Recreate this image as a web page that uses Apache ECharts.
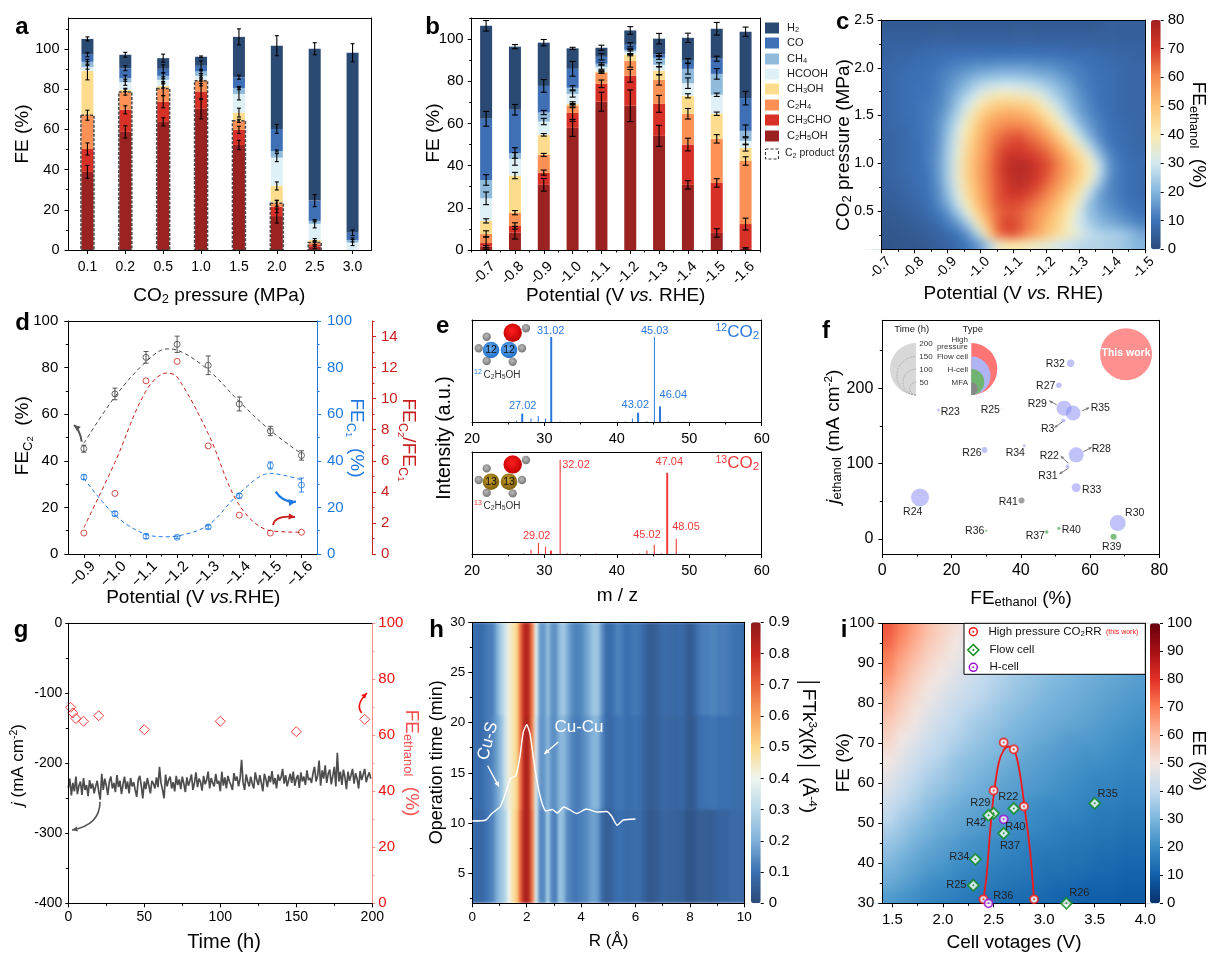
<!DOCTYPE html>
<html><head><meta charset="utf-8">
<style>html,body{margin:0;padding:0;background:#fff}#c{width:1214px;height:969px;isolation:isolate}</style>
<script src="https://cdn.jsdelivr.net/npm/echarts@6/dist/echarts.min.js"></script>
</head><body><div id="c"></div>
<script>
// ---------- panel a: cumulative tops of the stacked bars
const aCats=['0.1','0.2','0.5','1.0','1.5','2.0','2.5','3.0'];
const aC2H5OH=[38.9,58.8,63.8,70.3,52.3,16.9,1.7,0];
const aCH3CHO=[50.3,69.8,73.8,78.9,59.8,21.6,2.8,0];
const aC2H4=[67.1,78.6,80.4,84.2,64.3,23.3,3.7,0];
const aCH3OH=[89.2,79.7,81.7,84.6,68.4,31.9,5,0];
const aHCOOH=[91,83.5,84.7,86.7,77.7,46,13,3.7];
const aCH4=[93.7,85.5,86.7,88.9,80.6,49.3,14.5,5];
const aCO=[97.2,90.5,90.2,91.7,86,60.3,24.6,8.6];
const aH2=[105.1,97.2,95.5,96.2,106.1,101.7,100.2,98.2];
const aErr=[[3.2,3,2.5,4.5,1,1.2,1,1],[3,2,1.5,.8,1.5,1.5,1.2,1.2],[2,3,3.5,1,1.5,1.5,2,2],[5,4,2.5,.5,1,1,2.5,.4],[2.3,1.8,.8,2.2,3,.8,1,4],[3.5,3,1.5,2,2,.5,2.2,5],[1,1,1,.7,2,.5,3,3],[0,0,0,0,1.5,1,1.4,4.5]];
// ---------- panel b
const bCats=['-0.7','-0.8','-0.9','-1.0','-1.1','-1.2','-1.3','-1.4','-1.5','-1.6'];
const bC2H5OH=[1.6,8.2,30.9,57.9,70.3,68.4,54.1,30.9,8.1,.8];
const bCH3CHO=[3.3,11.4,36.7,65,78.8,82.6,69.3,50,31.8,12.3];
const bC2H4=[7.6,17.7,45.1,68.5,84.2,89.7,80.7,64.6,52.7,42.2];
const bCH3OH=[13.8,35.3,54.6,69.3,84.5,92.6,85,73.1,64.6,48.4];
const bHCOOH=[24.5,43.2,60.9,74,86.7,94.1,87.8,79.1,73.6,51.7];
const bCH4=[33.2,46,65.2,76.9,88.3,94.9,91.1,85.9,83.5,56.5];
const bCO=[62.2,66.5,77.8,85.9,91.6,97.3,92.7,89.7,90.7,72];
const bH2=[106.3,96.4,98.3,95.6,95.9,104.1,100.2,100.6,104.9,103.5];
const bErr=[[.5,3,1.5,1,3,2.5,3.5,2.5],[3,1.5,1,1.5,3,2.5,2.5,1],[3,1.2,.7,.6,1.5,1,3,1.5],[4,4,1,1,1.5,1,3.5,.5],[4.5,1.8,.5,.5,1,.5,1.5,1.2],[7.5,3,3,.5,1,.5,1,1.8],[5,4,2.5,2,1,.7,.5,2.5],[2,3,2.5,1,2.5,2.5,1,2.2],[2,2,2,.8,.8,2.5,1.2,3],[.3,2.8,2,1.5,1.5,2.8,3.2,2.2]];
const speciesNames=['C2H5OH','CH3CHO','C2H4','CH3OH','HCOOH','CH4','CO','H2'];
const speciesColors=['#9a2220','#d73027','#fc9055','#fedc8e','#dff0f6','#8fbadb','#3f6fb5','#2b4a73'];
// ---------- panel c: FE ethanol (top row = 2.5 MPa)
const cMatrix=[
[4,4,4,4,4,4,4,4,4,4,4,4,4,4,4,4,4,4,4,4,4,4,5,5,5,5],
[5,5,5,5,5,5,5,5,5,5,5,5,5,5,5,5,5,5,5,5,5,5,5,5,5,5],
[6,6,6,6,7,7,7,7,7,7,7,7,7,7,7,7,7,7,7,7,7,6,6,6,6,6],
[6,7,7,8,8,9,9,10,10,10,10,10,10,10,10,10,10,10,9,9,9,8,8,7,7,6],
[7,7,8,9,9,10,11,12,13,14,14,15,15,15,15,14,14,13,12,11,10,9,8,8,7,7],
[7,8,9,9,10,11,13,15,17,19,20,21,21,21,20,19,18,16,14,12,11,9,9,8,7,7],
[7,8,9,10,10,11,14,17,21,25,28,29,30,29,28,26,23,20,17,13,11,10,9,8,7,7],
[7,8,9,10,10,12,15,20,26,31,36,38,38,37,36,33,28,23,19,15,12,10,9,8,7,7],
[7,8,9,10,11,12,16,23,30,38,44,47,48,47,46,41,34,28,21,16,13,10,9,8,7,7],
[7,8,9,10,11,13,18,26,35,44,50,53,55,54,52,47,41,33,25,18,14,11,9,8,7,7],
[7,8,8,10,11,14,20,29,39,48,55,58,60,60,58,54,47,39,30,22,16,12,10,8,8,7],
[6,7,8,10,11,14,22,32,42,50,57,62,65,66,63,60,54,46,38,28,19,13,10,9,8,7],
[6,7,8,9,11,14,23,33,44,52,59,65,68,70,67,64,60,53,44,36,26,16,11,9,8,7],
[6,7,8,9,11,15,24,34,45,53,60,67,72,72,71,68,64,58,51,43,34,22,13,10,8,8],
[6,7,8,9,11,15,24,35,46,54,61,68,74,76,75,71,67,61,54,47,39,28,15,11,9,8],
[6,7,8,9,10,15,24,35,46,54,61,68,74,76,75,71,66,60,54,47,40,28,15,11,9,8],
[5,6,7,9,10,14,23,34,45,53,61,67,72,75,73,69,63,58,51,44,35,23,13,11,9,8],
[5,5,7,8,10,13,21,32,43,52,60,67,71,72,69,65,60,54,47,39,28,17,13,11,9,8],
[4,5,6,7,9,12,18,28,39,50,59,66,68,68,65,61,56,50,43,35,23,17,14,12,10,9],
[4,4,5,6,8,10,14,22,33,45,56,64,67,66,62,58,53,47,40,31,23,19,16,14,12,10],
[3,4,4,5,6,8,11,15,24,37,51,65,70,67,62,57,51,45,38,31,25,21,19,17,15,13],
[3,3,4,4,5,6,8,10,15,26,44,62,67,65,59,54,48,43,38,33,28,26,25,24,22,18],
[2,3,3,3,4,5,6,8,11,15,24,36,40,40,38,36,34,31,29,27,26,26,25,24,22,20]];
// ---------- panel d
const dX=[9,10,11,12,13,14,15,16];
const dC2=[45.2,68.7,84.4,90,81,64.4,52.8,42.3];
const dC2Err=[1.5,2.5,2.5,3.5,4,3,2,2];
const dC1=[33,17.3,7.6,7.2,11.6,25,38,29.6];
const dC1Err=[1,1,1,.5,.8,1,1.5,3];
const dRatio=[1.35,3.9,11.15,12.4,6.96,2.5,1.35,1.4];
const dFitX=[9,10,11,11.67,12,13,14,15,16];
const dFitC2=[47.5,67.5,82.5,88,87.5,79,65.4,53,43];
const dFitC1=[32.5,16.7,8.4,7.4,7.7,12.4,26,34.6,31.8];
const dFitRatio=[1.7,5.9,10.5,11.65,11.4,7.75,3.15,1.5,1.4];
// ---------- panel e
const e12Thick=[[27.02,10],[31.02,100],[43.02,11],[46.04,18.4]];
const e12Thin=[[25,.5],[26,1.6],[28,4],[29,7],[30,4],[32,1],[41,.6],[42,4],[44,1],[45.03,100],[47,1],[49,.5]];
const e13Thick=[[31,4],[47.04,95.5]];
const e13Thin=[[27,.8],[28,5],[29.02,13],[30,8.6],[32.02,111],[33,1],[34,.5],[37,.5],[42,.5],[43,.6],[44,4],[45.02,11],[46,1],[48.05,18],[49,.7],[50,.4]];
// ---------- panel f  [FE, j, bubble diameter]
const fFlow=[[54.4,233,7.3],[51,204,5.5],[52.5,173.5,15],[55.1,167,15],[52.3,157,4],[16.2,171,3],[34.5,172,1],[41,123.5,3],[29.5,118,6],[56,111.5,15],[53.5,96,4],[56,68,9],[10.9,55,18],[68,21,16]];
const fHcell=[[30,11,2],[47.5,9.3,3.5],[51,14,3],[66.8,3,6]];
const fMfa=[[40.2,51,6]];
const fThis=[[70.4,245,52]];
// ---------- panel g
const gTime=[1.5,3,5,10,20,50,100,150,195];
const gFE=[70,68,66,65,67,62,65,61.3,65.7];
const gJ=[-235,-222,-246,-228,-240,-219,-244,-232,-226,-245,-221,-238,-231,-247,-224,-236,-229,-243,-233,-225,
-240,-252,-215,-238,-222,-232,-245,-226,-219,-236,-228,-241,-217,-234,-225,-244,-230,-219,-237,-226,
-243,-221,-233,-227,-238,-248,-224,-218,-232,-250,-226,-237,-221,-232,-243,-225,-229,-236,-220,-234,
-205,-228,-238,-250,-216,-233,-224,-219,-236,-227,-240,-218,-231,-223,-237,-219,-229,-241,-220,-232,
-225,-216,-238,-228,-213,-234,-222,-227,-239,-218,-230,-224,-212,-236,-221,-228,-233,-215,-229,-225,
-240,-212,-232,-220,-236,-218,-226,-231,-238,-214,-225,-219,-233,-222,-195,-228,-238,-216,-226,-233,
-219,-229,-236,-213,-224,-231,-217,-228,-240,-215,-223,-234,-218,-227,-211,-230,-221,-236,-216,-225,
-220,-208,-229,-217,-233,-224,-215,-228,-212,-232,-222,-217,-235,-213,-226,-219,-231,-210,-224,-221,
-228,-214,-205,-226,-218,-196,-232,-210,-222,-203,-228,-215,-209,-230,-218,-205,-233,-185,-226,-212,
-231,-209,-220,-237,-212,-225,-217,-208,-229,-214,-222,-236,-211,-224,-216,-208,-227,-219,-213,-222];
// ---------- panel h (rows: 20-30, 11-20, 2-11 min; 70 columns across R 0-10)
const hMatrix=[
[.10,.09,.09,.11,.12,.13,.2,.27,.34,.42,.46,.5,.68,.83,.83,.65,.38,.17,.16,.24,.16,.15,.23,.26,.2,.15,.13,.13,.15,.18,.22,.26,.24,.15,.09,.09,.11,.13,.12,.1,.1,.11,.11,.1,.08,.05,.05,.06,.08,.09,.08,.08,.08,.09,.08,.05,.05,.08,.11,.12,.12,.13,.13,.12,.12,.12,.11,.1,.1,.09],
[.10,.09,.09,.11,.12,.14,.18,.24,.33,.42,.46,.5,.68,.84,.84,.64,.36,.16,.16,.22,.15,.15,.21,.22,.18,.14,.12,.12,.14,.16,.19,.22,.2,.13,.09,.08,.1,.11,.11,.1,.09,.1,.1,.09,.07,.05,.05,.06,.07,.08,.07,.07,.07,.08,.07,.05,.04,.06,.09,.1,.1,.11,.11,.1,.1,.1,.1,.09,.09,.09],
[.09,.08,.08,.1,.12,.14,.2,.25,.29,.4,.47,.52,.7,.85,.84,.66,.36,.14,.14,.28,.14,.12,.25,.22,.14,.12,.11,.12,.13,.14,.17,.18,.15,.08,.05,.06,.08,.1,.1,.09,.08,.09,.09,.08,.06,.04,.04,.05,.06,.07,.06,.06,.06,.06,.05,.03,.03,.04,.05,.05,.05,.05,.06,.07,.07,.07,.08,.08,.08,.08]];
const hLine=[[0,10.2],[.5,10.3],[.7,10.9],[1.02,11.6],[1.2,12.8],[1.41,14.45],[1.6,14.7],[1.75,16.6],[1.87,19],[2,19.8],[2.12,18.9],[2.24,16.6],[2.39,14],[2.55,12.1],[2.71,11.2],[2.94,11.35],[3.12,11],[3.37,11.6],[3.59,11.3],[3.84,10.95],[4.2,11.4],[4.57,11.1],[4.94,11.15],[5.12,10.7],[5.33,9.77],[5.55,10.3],[6,10.4]];
// ---------- panel i (top row = FE 100 side)
const iMatrix=[
[75,69,64,59,55,52,49,46,44,42,40,38,36,35,34,32,31,30,29,28],
[73,67,62,57,54,50,47,45,42,40,38,37,35,34,32,31,30,29,28,27],
[70,64,60,55,52,49,46,43,41,39,37,35,34,33,31,30,29,28,27,26],
[68,62,57,53,50,47,44,42,39,38,36,34,33,31,30,29,28,27,26,25],
[65,60,55,51,48,45,42,40,38,36,34,33,31,30,29,28,27,26,25,24],
[62,57,53,49,46,43,41,39,37,35,33,32,30,29,28,27,26,25,24,23],
[60,55,51,47,44,41,39,37,35,33,32,30,29,28,27,26,25,24,23,22],
[57,53,49,45,42,40,37,35,34,32,30,29,28,27,26,25,24,23,22,21],
[55,50,47,43,40,38,36,34,32,30,29,28,27,25,24,24,23,22,21,20],
[52,48,44,41,39,36,34,32,31,29,28,26,25,24,23,22,22,21,20,19],
[50,46,42,39,37,34,32,31,29,28,26,25,24,23,22,21,21,20,19,19],
[47,43,40,37,35,33,31,29,28,26,25,24,23,22,21,20,19,19,18,18],
[45,41,38,35,33,31,29,28,26,25,24,23,22,21,20,19,18,18,17,17],
[42,39,36,33,31,29,27,26,25,23,22,21,20,20,19,18,17,17,16,16],
[40,36,34,31,29,27,26,24,23,22,21,20,19,18,18,17,16,16,15,15],
[37,34,31,29,27,26,24,23,22,21,20,19,18,17,16,16,15,15,14,14],
[34,32,29,27,25,24,22,21,20,19,18,17,17,16,15,15,14,14,13,13],
[32,29,27,25,24,22,21,20,19,18,17,16,15,15,14,14,13,13,12,12],
[29,27,25,23,22,20,19,18,17,16,16,15,14,14,13,13,12,12,11,11],
[27,25,23,21,20,19,17,17,16,15,14,14,13,12,12,11,11,11,10,10],
[24,22,21,19,18,17,16,15,14,13,13,12,12,11,11,10,10,10,9,9]];
const iHigh=[[2.4,31],[2.5,58.2],[2.6,70.2],[2.7,68.5],[2.8,54.2],[2.9,31]];
const iFit=[[2.4,31],[2.43,36.7],[2.47,49.2],[2.5,56.7],[2.55,65],[2.6,68.3],[2.65,69.2],[2.71,67.9],[2.76,62.5],[2.81,53.3],[2.86,43.3],[2.9,31]];
const iFlow=[[3.5,55],[2.7,53.7],[2.5,52.5],[2.45,52],[2.6,47.5],[2.32,41],[2.3,34.5],[3.22,30]];
const iHcell=[[2.6,51],[2.45,30]];

const F='"Liberation Sans",Arial,sans-serif';
const grid=[],xAxis=[],yAxis=[],series=[],visualMap=[],els=[];
const range=(a,b,s)=>{const r=[];for(let v=a;v<=b+1e-9;v+=s)r.push(+v.toFixed(4));return r;};

function addGrid(x0,y0,x1,y1){grid.push({left:x0,top:y0,width:x1-x0,height:y1-y0,show:false});return grid.length-1;}
function valAxis(store,g,pos,min,max,o){
  o=o||{};const color=o.color||'#000';
  const lab={show:!!o.labels,customValues:o.labels,color,fontSize:o.size||14,fontFamily:F,margin:o.margin||6,rotate:o.rotate||0,formatter:o.fmt};
  if(o.rotate){lab.align='center';lab.verticalAlign='middle';lab.padding=[0,o.shift||0,0,0];}
  store.push({type:'value',gridIndex:g,position:pos,min,max,offset:o.offset||0,inverse:!!o.inverse,z:10,silent:true,
    axisLine:{show:o.line!==false,onZero:false,lineStyle:{color:o.lineColor||color,width:1}},
    axisTick:{show:!!o.ticks,length:o.tickLen||4,customValues:o.ticks,lineStyle:{color:o.lineColor||color,width:1}},
    axisLabel:lab,splitLine:{show:false},minorTick:{show:false}});
  return store.length-1;
}
function panel(g,X,Y){
  const xi=X.category?catAxis(g,X):valAxis(xAxis,g,'bottom',X.min,X.max,Object.assign({},X,{labels:X.labels||X.ticks}));
  const yi=valAxis(yAxis,g,'left',Y.min,Y.max,Object.assign({},Y,{labels:Y.labels||Y.ticks}));
  if(X.minor)valAxis(xAxis,g,'bottom',X.mMin!==undefined?X.mMin:X.min,X.mMax!==undefined?X.mMax:X.max,{inverse:X.inverse,line:false,ticks:X.minor,tickLen:2.5});
  if(Y.minor)valAxis(yAxis,g,'left',Y.min,Y.max,{line:false,ticks:Y.minor,tickLen:2.5,color:Y.color});
  const fx=X.mMin!==undefined?[X.mMin,X.mMax]:[X.min,X.max];
  valAxis(xAxis,g,'top',fx[0],fx[1],{inverse:X.inverse});
  if(!Y.noRight)valAxis(yAxis,g,'right',Y.min,Y.max,{});
  return {g,xi,yi};
}
function catAxis(g,X){
  const lab={color:'#000',fontSize:X.size||14,fontFamily:F,margin:X.margin||6,rotate:X.rotate||0,interval:0};
  if(X.rotate){lab.align='center';lab.verticalAlign='middle';lab.padding=[0,X.shift||0,0,0];}
  xAxis.push({type:'category',gridIndex:g,position:'bottom',data:X.category,z:10,silent:true,
    axisLine:{show:true,onZero:false,lineStyle:{color:'#000'}},axisTick:{show:true,alignWithLabel:true,length:4,lineStyle:{color:'#000'}},
    axisLabel:lab,splitLine:{show:false}});
  return xAxis.length-1;
}
// heat cells are drawn one edge cell wider on each padded side; white strips hide what lies outside the frame
function heat(rect,matrix,min,max,colors,cb,cbTicks,zl,padY,cbMargin){
  const nc=matrix[0].length,nr=matrix.length,cw=(rect[2]-rect[0])/nc,ch=(rect[3]-rect[1])/nr;
  const wide=matrix.map(r=>[r[0]].concat(r,[r[nc-1]]));
  const m=padY?[wide[0]].concat(wide,[wide[nr-1]]):wide;
  const g=addGrid(rect[0]-cw,rect[1]-(padY?ch:0),rect[2]+cw,rect[3]+(padY?ch:0));
  xAxis.push({type:'category',gridIndex:g,show:false,data:m[0].map((_,i)=>''+i)});
  yAxis.push({type:'category',gridIndex:g,show:false,inverse:true,data:m.map((_,i)=>''+i)});
  const data=[];m.forEach((row,j)=>row.forEach((v,i)=>data.push([i,j,v])));
  series.push({type:'heatmap',zlevel:zl,xAxisIndex:xAxis.length-1,yAxisIndex:yAxis.length-1,data,silent:true,z:1,progressive:0,itemStyle:{borderWidth:0},emphasis:{disabled:true}});
  visualMap.push({type:'continuous',min,max,dimension:2,seriesIndex:series.length-1,left:cb[0],top:cb[1],itemWidth:cb[2]-cb[0],itemHeight:cb[3]-cb[1],padding:0,calculable:false,hoverLink:false,inRange:{color:colors},textStyle:{color:'#000'}});
  const s=30;
  [[rect[0]-s,rect[1]-s,rect[2]-rect[0]+2*s,s],[rect[0]-s,rect[3],rect[2]-rect[0]+2*s,s],[rect[0]-s,rect[1],s,rect[3]-rect[1]],[rect[2],rect[1],s,rect[3]-rect[1]]].forEach(a=>
    els.push({type:'rect',z:0,silent:true,shape:{x:a[0],y:a[1],width:a[2],height:a[3]},style:{fill:'#fff'}}));
  const cg=addGrid(cb[0],cb[1],cb[2],cb[3]);
  valAxis(xAxis,cg,'bottom',0,1,{line:false});
  valAxis(yAxis,cg,'right',min,max,{line:false,ticks:cbTicks,labels:cbTicks,size:15,margin:cbMargin||7,tickLen:3});
}
function errorItem(cap,lw,color){
  return function(p,api){
    const x=api.value(0),y=api.value(1),e=api.value(2);
    const a=api.coord([x,y-e]),b=api.coord([x,y+e]);
    const st={stroke:color,lineWidth:lw};
    return {type:'group',children:[
      {type:'line',shape:{x1:a[0],y1:a[1],x2:b[0],y2:b[1]},style:st},
      {type:'line',shape:{x1:a[0]-cap,y1:a[1],x2:a[0]+cap,y2:a[1]},style:st},
      {type:'line',shape:{x1:b[0]-cap,y1:b[1],x2:b[0]+cap,y2:b[1]},style:st}]};
  };
}
function stacked(P,name,tops,errs,barW,cap){
  tops.forEach((t,s)=>{
    series.push({type:'bar',name:speciesNames[s],xAxisIndex:P.xi,yAxisIndex:P.yi,stack:name,barWidth:barW,silent:true,
      itemStyle:{color:speciesColors[s]},data:t.map((v,i)=>+(v-(s?tops[s-1][i]:0)).toFixed(2))});
  });
  const d=[];tops.forEach((t,s)=>t.forEach((v,i)=>{if(errs[i][s]>0)d.push([i,v,errs[i][s]]);}));
  series.push({type:'custom',xAxisIndex:P.xi,yAxisIndex:P.yi,z:6,silent:true,data:d,encode:{x:0,y:1},renderItem:errorItem(cap,1.1,'#000')});
}
function rich(S,c,b){
  const w=b?'bold':'normal';
  return {n:{fontSize:S,fill:c,fontFamily:F,fontWeight:w},
   i:{fontSize:S,fill:c,fontFamily:F,fontStyle:'italic',fontWeight:w},
   s:{fontSize:S*.68,fill:c,fontFamily:F,verticalAlign:'bottom',padding:[S*.42,0,0,0]},
   t:{fontSize:S*.5,fill:c,fontFamily:F,verticalAlign:'bottom',padding:[S*.8,0,0,0]},
   u:{fontSize:S*.62,fill:c,fontFamily:F,verticalAlign:'top',padding:[0,0,S*.45,0]}};
}
function T(x,y,str,o){
  o=o||{};const S=o.size||19,c=o.color||'#000',al=o.align||'center';
  const style={text:str,x:0,y:0,align:al,textAlign:al,verticalAlign:'middle',textVerticalAlign:'middle',fill:c,fontSize:S,fontFamily:F,fontWeight:o.bold?'bold':'normal',fontStyle:o.italic?'italic':'normal'};
  if(str.indexOf('{')>=0)style.rich=rich(S,c,o.bold);
  els.push({type:'text',x,y,rotation:(o.rot||0)*Math.PI/180,z:100,silent:true,style});
}
function arrow(x1,y1,cx,cy,x2,y2,color,lw,head){
  head=head||6;
  els.push({type:'bezierCurve',z:100,silent:true,shape:{x1,y1,cpx1:cx,cpy1:cy,x2,y2},style:{stroke:color,lineWidth:lw,fill:'none'}});
  const ang=Math.atan2(y2-cy,x2-cx),h=head,t=ang+Math.PI;
  els.push({type:'polygon',z:100,silent:true,shape:{points:[[x2,y2],[x2+h*Math.cos(t+.45),y2+h*Math.sin(t+.45)],[x2+h*Math.cos(t-.45),y2+h*Math.sin(t-.45)]]},style:{fill:color}});
}
function ball(x,y,r,c1,c2){els.push({type:'circle',z:100,silent:true,shape:{cx:x,cy:y,r},style:{fill:{type:'radial',x:.45,y:.4,r:.6,colorStops:[{offset:0,color:c1},{offset:1,color:c2}]}}});}
function molecule(dy,c1,c2,num){
  [[478.7,348.3],[486.7,336.7],[486.7,361],[512.7,361.7],[522,348.3],[526,328.3]].forEach(p=>ball(p[0],p[1]+dy,4.2,'#bbb','#777'));
  ball(491,350+dy,8.3,c1,c2);ball(509,350+dy,8.3,c1,c2);ball(512.7,332.7+dy,9.2,'#ff2020','#c00000');
  T(491,350.5+dy,num,{size:10.5,color:'#111'});T(509,350.5+dy,num,{size:10.5,color:'#111'});
}

// ===== a
{
 const P=panel(addGrid(68.5,18,371.5,250),{category:aCats,size:14,margin:10},{min:0,max:115.5,ticks:range(0,100,20),minor:range(10,110,20),size:14.5,margin:9});
 stacked(P,'a',[aC2H5OH,aCH3CHO,aC2H4,aCH3OH,aHCOOH,aCH4,aCO,aH2],aErr,12,2);
 series.push({type:'custom',xAxisIndex:P.xi,yAxisIndex:P.yi,z:5,silent:true,data:aC2H4.slice(0,7).map((v,i)=>[i,v]),encode:{x:0,y:1},renderItem(p,api){
   const a=api.coord([api.value(0),api.value(1)]),b=api.coord([api.value(0),0]);
   return {type:'rect',shape:{x:a[0]-6.5,y:a[1],width:13,height:b[1]-a[1]},style:{fill:'none',stroke:'#444',lineWidth:1.5,lineDash:[3,1.5]}};}});
 T(22,27,'a',{size:24,bold:true});
 T(22.7,134,'FE (%)',{rot:90});
 T(219.3,295.7,'{n|CO}{s|2}{n| pressure (MPa)}');
}
// ===== b
{
 const P=panel(addGrid(471.7,18,760,250),{category:bCats,size:14.5,margin:21,rotate:45,shift:6,minor:range(0,10,1),mMin:0,mMax:10},{min:0,max:110,ticks:range(0,100,20),minor:range(10,110,20),size:15,margin:8});
 stacked(P,'b',[bC2H5OH,bCH3CHO,bC2H4,bCH3OH,bHCOOH,bCH4,bCO,bH2],bErr,12,3);
 T(432.7,27,'b',{size:24,bold:true});
 T(433.3,133,'FE (%)',{rot:90});
 T(615.7,295.7,'{n|Potential (V }{i|vs.}{n| RHE)}');
 const lg=[['{n|H}{s|2}',7],['{n|CO}',6],['{n|CH}{s|4}',5],['{n|HCOOH}',4],['{n|CH}{s|3}{n|OH}',3],['{n|C}{s|2}{n|H}{s|4}',2],['{n|CH}{s|3}{n|CHO}',1],['{n|C}{s|2}{n|H}{s|5}{n|OH}',0]];
 const ly=[28,43,59,74,89,105,120,136];
 lg.forEach((l,k)=>{
   els.push({type:'rect',z:100,silent:true,shape:{x:765,y:ly[k]-5.5,width:14,height:11},style:{fill:speciesColors[l[1]]}});
   T(787,ly[k],l[0],{size:11,align:'left',color:'#222'});
 });
 els.push({type:'rect',z:100,silent:true,shape:{x:765.5,y:149,width:13,height:10},style:{fill:'none',stroke:'#333',lineWidth:1,lineDash:[3,2]}});
 T(785,153.5,'{n|C}{s|2}{n| product}',{size:10.5,align:'left',color:'#222'});
}
// ===== c
{
 const cols=['#2b4b7b','#3d72b8','#84b6dd','#d3e8f0','#fbeab0','#fdc274','#f58b4f','#d73a2a','#a01f1f'];
 heat([881.7,20,1145,249.3],cMatrix,0,80,cols,[1151,20,1160.7,249.3],range(0,80,10),-2,true,7);
 panel(addGrid(881.7,20,1145,249.3),{min:-1.5,max:-.7,inverse:true,ticks:range(-1.5,-.7,.1),minor:range(-1.45,-.75,.1),rotate:45,shift:4,size:14,margin:17,fmt:v=>v.toFixed(1)},
   {min:.1,max:2.5,ticks:[.5,1,1.5,2,2.5],minor:[.25,.75,1.25,1.75,2.25],size:14,margin:8,fmt:v=>v.toFixed(1)});
 T(842.7,22,'c',{size:24,bold:true});
 T(843.3,145,'{n|CO}{s|2}{n| pressure (MPa)}',{rot:90});
 T(1013.3,293.3,'{n|Potential (V }{i|vs.}{n| RHE)}');
 T(1198,135,'{n|FE}{s|ethanol}{n|  (%)}',{rot:-90});
}
// ===== d
{
 const blue='#1f78e0',red='#c81e1e';
 const g=addGrid(68.3,321,317,554);
 const P=panel(g,{min:8.5,max:16.5,ticks:dX,minor:range(9.5,15.5,1),rotate:45,shift:4,size:15,margin:19,fmt:v=>'\u2212'+(v/10).toFixed(1)},
   {min:0,max:100,ticks:range(0,100,20),minor:range(10,90,20),size:15,margin:10,noRight:true});
 const yb=valAxis(yAxis,g,'right',0,100,{color:blue,ticks:range(0,100,20),labels:range(0,100,20),size:15,margin:10});
 valAxis(yAxis,g,'right',0,100,{color:blue,line:false,ticks:range(10,90,20),tickLen:2.5});
 const yr=valAxis(yAxis,g,'right',0,15,{color:red,offset:55,ticks:range(0,14,2),labels:range(0,14,2),size:15,margin:9});
 valAxis(yAxis,g,'right',0,15,{color:red,offset:55,line:false,ticks:range(1,15,2),tickLen:2.5});
 const fit=(ys,yi,c)=>series.push({type:'line',xAxisIndex:P.xi,yAxisIndex:yi,smooth:.35,showSymbol:false,silent:true,z:3,lineStyle:{color:c,width:1,type:[4,3]},data:dFitX.map((x,i)=>[x,ys[i]])});
 fit(dFitC2,P.yi,'#444');fit(dFitC1,yb,blue);fit(dFitRatio,yr,red);
 const pts=(ys,yi,c)=>series.push({type:'scatter',xAxisIndex:P.xi,yAxisIndex:yi,symbol:'circle',symbolSize:6,silent:true,z:7,itemStyle:{color:'rgba(255,255,255,0)',borderColor:c,borderWidth:1},data:dX.map((x,i)=>[x,ys[i]])});
 pts(dC2,P.yi,'#444');pts(dC1,yb,blue);pts(dRatio,yr,red);
 series.push({type:'custom',xAxisIndex:P.xi,yAxisIndex:P.yi,z:6,silent:true,data:dX.map((x,i)=>[x,dC2[i],dC2Err[i]]),encode:{x:0,y:1},renderItem:errorItem(2.5,.9,'#444')});
 series.push({type:'custom',xAxisIndex:P.xi,yAxisIndex:yb,z:6,silent:true,data:dX.map((x,i)=>[x,dC1[i],dC1Err[i]]),encode:{x:0,y:1},renderItem:errorItem(2.5,.9,blue)});
 T(22.7,323,'d',{size:24,bold:true});
 T(22.7,435.7,'{n|FE}{s|C}{t|2}{n|  (%)}',{rot:90});
 T(193.3,597.7,'{n|Potential (V }{i|vs.}{n|RHE)}');
 T(356.7,438,'{n|FE}{s|C}{t|1}{n|  (%)}',{rot:-90,color:blue});
 T(408.3,440,'{n|FE}{s|C}{t|2}{n|/FE}{s|C}{t|1}',{rot:-90,color:red});
 arrow(81.7,441.7,80,430,74,425,'#555',2,7);
 arrow(275.7,491.7,283,503,296,501.7,blue,2.2,8);
 arrow(273,525,275,515,295,517,red,1.8,7);
}
// ===== e
{
 const blue='#2a78dc',red='#f03c3c';
 const xo={min:20,max:60,ticks:range(20,60,10),minor:range(25,55,10),size:14.5,margin:9};
 const P1=panel(addGrid(472,320,761.7,422),xo,{min:0,max:120});
 const P2=panel(addGrid(472,452,761.7,554),xo,{min:0,max:120});
 const stem=(P,d,w,c)=>series.push({type:'bar',xAxisIndex:P.xi,yAxisIndex:P.yi,barWidth:w,silent:true,itemStyle:{color:c},data:d});
 stem(P1,e12Thick,2,blue);stem(P1,e12Thin,1,blue);stem(P2,e13Thick,2,red);stem(P2,e13Thin,1.1,red);
 molecule(0,'#6aaef0','#1f6fc8','12');molecule(131.7,'#c8a030','#7f5f08','13');
 T(442.7,326,'e',{size:24,bold:true});
 T(445,438,'Intensity (a.u.)',{rot:90,size:19.5});
 T(617.3,595.7,'m / z',{size:19});
 [['31.02',550.7,330.7],['45.03',654.7,330.7],['27.02',522.7,406],['43.02',635.3,404.7],['46.04',673.3,395]].forEach(a=>T(a[1],a[2],a[0],{size:11,color:blue}));
 [['32.02',576,465.3],['47.04',669.3,462.3],['29.02',536.7,536],['45.02',647,535],['48.05',686,527.3]].forEach(a=>T(a[1],a[2],a[0],{size:11,color:red}));
 T(737.3,332.3,'{u|12}{n|CO}{s|2}',{size:17,color:blue});
 T(737.3,463.7,'{u|13}{n|CO}{s|2}',{size:17,color:red});
 T(478,372.5,'12',{size:7,color:blue});
 T(502,375,'{n|C}{s|2}{n|H}{s|5}{n|OH}',{size:10,color:'#333'});
 T(478,503.5,'13',{size:7,color:red});
 T(502,506,'{n|C}{s|2}{n|H}{s|5}{n|OH}',{size:10,color:'#333'});
}
// ===== f
{
 const P=panel(addGrid(882.3,320.3,1159.3,554),{min:0,max:80,ticks:range(0,80,20),minor:range(10,70,20),size:16,margin:9},
   {min:-20,max:290,ticks:[0,100,200],minor:[50,150,250],size:16,margin:9});
 const bub=(d,c)=>series.push({type:'scatter',xAxisIndex:P.xi,yAxisIndex:P.yi,silent:true,z:5,symbolSize:v=>v[2],itemStyle:{color:c},data:d});
 bub(fFlow,'rgba(130,132,240,.62)');bub(fHcell,'#5fae5f');bub(fMfa,'#8a8a8a');bub(fThis,'#ff7474');
 T(826,331,'f',{size:24,bold:true});
 T(833.3,436.7,'{i|j}{s|ethanol}{n| (mA cm}{u|-2}{n|)}',{rot:90});
 T(1021,598.3,'{n|FE}{s|ethanol}{n| (%)}');
 T(1126,353,'This work',{size:10.5,bold:true,color:'#fff'});
 [['R32',1055.3,363.7],['R27',1045.7,386.3],['R29',1037.3,404],['R35',1100.3,407.7],['R3',1047.7,429],['R23',950.3,412],['R25',990.3,410.3],['R34',1015.3,452.7],['R26',972,452.7],['R28',1101.3,449],['R22',1049.3,456],['R31',1048,476],['R33',1091.7,489.7],['R41',1008.3,502],['R24',912.7,512],['R30',1134.7,512.7],['R36',974.7,530.7],['R40',1071.3,530],['R37',1035.3,536.3],['R39',1111.7,547]].forEach(a=>T(a[1],a[2],a[0],{size:10.5,color:'#222'}));
 [[1056.7,405,1049.3,400.7],[1081.7,411,1089.3,407.7],[1062.7,421.7,1054.3,427.7],[1083.3,451.7,1091.7,447.3],[1068.3,463.3,1060.7,456],[1068.3,468.3,1059.3,474]].forEach(a=>arrow(a[0],a[1],(a[0]+a[2])/2,(a[1]+a[3])/2,a[2],a[3],'#777',1,3.5));
 const sec=(cx,cy,r,a,b,c)=>els.push({type:'sector',z:99,silent:true,shape:{cx,cy,r,r0:0,startAngle:a,endAngle:b,clockwise:true},style:{fill:c}});
 sec(916,369,26,Math.PI/2,Math.PI*1.5,'#d8d8d8');
 [[19.2,375.8],[13,382],[6.4,388.6]].forEach(a=>els.push({type:'arc',z:100,silent:true,shape:{cx:916,cy:a[1],r:a[0],startAngle:Math.PI/2,endAngle:Math.PI*1.5,clockwise:true},style:{stroke:'#999',lineWidth:.6,lineDash:[2,1],fill:'none'}}));
 sec(971.3,369,26,-Math.PI/2,Math.PI/2,'#ff7474');sec(971.3,375.8,19.2,-Math.PI/2,Math.PI/2,'#b0b4f5');sec(971.3,382,13,-Math.PI/2,Math.PI/2,'#6fb56f');sec(971.3,388.6,6.4,-Math.PI/2,Math.PI/2,'#888');
 T(911.7,329.3,'Time (h)',{size:9.5,color:'#222'});T(972.7,329.3,'Type',{size:9.5,color:'#222'});
 [['200',926,343.3],['150',926,356.7],['100',926,369.3],['50',924,382.3]].forEach(a=>T(a[1],a[2],a[0],{size:8,color:'#333'}));
 [['High',339.5],['pressure',346.3],['Flow cell',356.3],['H-cell',369.3],['MFA',382.3]].forEach(a=>T(968,a[1],a[0],{size:8,color:'#333',align:'right'}));
}
// ===== g
{
 const g=addGrid(68.3,623.3,372.3,903.3);
 const P=panel(g,{min:0,max:200,ticks:range(0,200,50),minor:range(25,175,50),size:14,margin:7,lineColor:'#000'},
   {min:-400,max:0,ticks:range(-400,0,100),minor:range(-350,-50,100),size:14,margin:6,tickLen:3,noRight:true});
 const yr=valAxis(yAxis,g,'right',0,100,{color:'#f01010',lineColor:'#ff8c8c',ticks:range(0,100,20),labels:range(0,100,20),size:15,margin:6,tickLen:3});
 valAxis(yAxis,g,'right',0,100,{lineColor:'#ff8c8c',line:false,ticks:range(10,90,20),tickLen:2});
 series.push({type:'line',xAxisIndex:P.xi,yAxisIndex:P.yi,showSymbol:false,silent:true,z:4,lineStyle:{color:'#4d4d4d',width:1.7},data:gJ.map((v,i)=>[i,v])});
 series.push({type:'scatter',xAxisIndex:P.xi,yAxisIndex:yr,symbol:'diamond',symbolSize:10,silent:true,z:5,itemStyle:{color:'rgba(255,255,255,0)',borderColor:'#f01010',borderWidth:1},data:gTime.map((t,i)=>[t,gFE[i]])});
 T(21,630,'g',{size:24,bold:true});
 T(18.3,765,'{i|j}{n| (mA cm}{u|-2}{n|)}',{rot:90,size:17});
 T(224,942.7,'Time (h)',{size:20});
 T(411.7,763,'{n|FE}{s|ethanol}{n|  (%)}',{rot:-90,color:'#f55050'});
 arrow(100,801.7,100,825,72,830,'#555',1.6,6);
 arrow(361.7,713,355,705,367,693,'#f01010',1.6,6);
}
// ===== h
{
 const cols=['#2b4a78','#3b6fb0','#7fb0d8','#b9d9ea','#eef5ee','#fcd98a','#f7a05c','#e8603a','#c9281f','#8b1a1a'];
 heat([472.3,622.3,744.3,903.3],hMatrix,0,.9,cols,[751,622.3,760.7,903.3],range(0,.9,.1),-1,false,8);
 const P=panel(addGrid(472.3,622.3,744.3,903.3),{min:0,max:10,ticks:range(0,10,2),minor:range(1,9,2),size:13.5,margin:7},
   {min:2,max:30,ticks:range(5,30,5),minor:range(2.5,27.5,5),size:13.5,margin:7});
 series.push({type:'line',xAxisIndex:P.xi,yAxisIndex:P.yi,showSymbol:false,silent:true,smooth:.2,z:20,lineStyle:{color:'#fff',width:1.4},data:hLine});
 T(436.7,630.7,'h',{size:24,bold:true});
 T(436.7,762.3,'Operation time (min)',{rot:90,size:18});
 T(608.7,941.7,'R (Å)',{size:17});
 T(808.3,745,'{n|\u2502FTk}{u|3}{n|\u03c7(k)\u2502 (Å}{u|-4}{n|)}',{rot:-90,size:19});
 T(488,741,'Cu-S',{rot:75,size:17,color:'#fff'});
 T(579,727,'Cu-Cu',{size:17,color:'#fff'});
 arrow(487.7,765.7,493,776,499,786.7,'#fff',1.4,5.5);
 arrow(558.3,742,551,748,544.3,754,'#fff',1.4,5.5);
}
// ===== i
{
 const cols=['#08306b','#1060aa','#3a8bc4','#7cb6dc','#c2daee','#f2e6e2','#fcbba1','#fb7c55','#e32f27','#a50f15','#67000d'];
 heat([882.3,623.3,1145.3,903.3],iMatrix,0,100,cols,[1150,623.3,1160,903.3],range(0,100,10),-2,true,7);
 const P=panel(addGrid(882.3,623.3,1145.3,903.3),{min:1.4,max:4,ticks:range(1.5,4,.5),minor:range(1.75,3.75,.5),size:15,margin:9,fmt:v=>v.toFixed(1)},
   {min:30,max:100,ticks:range(30,100,10),minor:range(35,95,10),size:15,margin:8});
 series.push({type:'line',xAxisIndex:P.xi,yAxisIndex:P.yi,showSymbol:false,silent:true,smooth:.35,z:12,lineStyle:{color:'#f01818',width:1.8},data:iFit});
 const sc=(d,sym,size,c)=>{
   series.push({type:'scatter',xAxisIndex:P.xi,yAxisIndex:P.yi,symbol:sym,symbolSize:size,silent:true,z:14,clip:true,itemStyle:{color:'#fff',borderColor:c,borderWidth:1.8},data:d});
   series.push({type:'scatter',xAxisIndex:P.xi,yAxisIndex:P.yi,symbol:'circle',symbolSize:2,silent:true,z:15,clip:true,itemStyle:{color:c},data:d});
 };
 sc(iHigh,'circle',8,'#f01818');sc(iFlow,'diamond',11,'#0a8a1a');sc(iHcell,'circle',8,'#9a10d0');
 T(844,630,'i',{size:24,bold:true});
 T(843.3,762.7,'FE (%)',{rot:90});
 T(1014,942.7,'Cell votages (V)',{size:19});
 T(1198.3,760.7,'EE (%)',{rot:-90});
 [['R35',1107.7,794],['R22',1008.3,797.3],['R29',980.3,803.3],['R42',976,823.3],['R40',1015.3,826.7],['R37',1010,846],['R34',959.3,856.7],['R25',956.3,885.3],['R36',1003.3,896],['R26',1079.3,893.3]].forEach(a=>T(a[1],a[2],a[0],{size:11,color:'#222'}));
 els.push({type:'rect',z:98,silent:true,shape:{x:964,y:623.3,width:181.3,height:51},style:{fill:'#fff',stroke:'#000',lineWidth:1}});
 const key=(y,c,dia)=>{
   els.push(dia?{type:'polygon',z:100,silent:true,shape:{points:[[973.3,y-5.5],[978.8,y],[973.3,y+5.5],[967.8,y]]},style:{fill:'#fff',stroke:c,lineWidth:1.5}}:{type:'circle',z:100,silent:true,shape:{cx:973.3,cy:y,r:4},style:{fill:'#fff',stroke:c,lineWidth:1.5}});
   els.push({type:'circle',z:101,silent:true,shape:{cx:973.3,cy:y,r:1},style:{fill:c}});
 };
 key(631.7,'#f01818');key(650,'#0a8a1a',true);key(667.3,'#9a10d0');
 T(988.5,631.7,'{n|High pressure CO}{s|2}{n|RR}',{size:11.5,align:'left',color:'#111'});
 T(1106,632.5,'(this work)',{size:7,align:'left',color:'#f01818'});
 T(989.5,650,'Flow cell',{size:11.5,align:'left',color:'#111'});
 T(989.5,667.3,'H-cell',{size:11.5,align:'left',color:'#111'});
}

const chart=echarts.init(document.getElementById('c'),null,{width:1214,height:969});
chart.setOption({animation:false,backgroundColor:'#fff',textStyle:{fontFamily:F},grid,xAxis,yAxis,series,visualMap,graphic:{elements:els}});
// the reference's colour maps are continuous: soften the heat layers (colour only, nothing moves)
const painter=chart.getZr().painter;
painter.getLayer(-2).dom.style.filter='blur(5px)';
painter.getLayer(-1).dom.style.filter='blur(1.5px)';
</script></body></html>
